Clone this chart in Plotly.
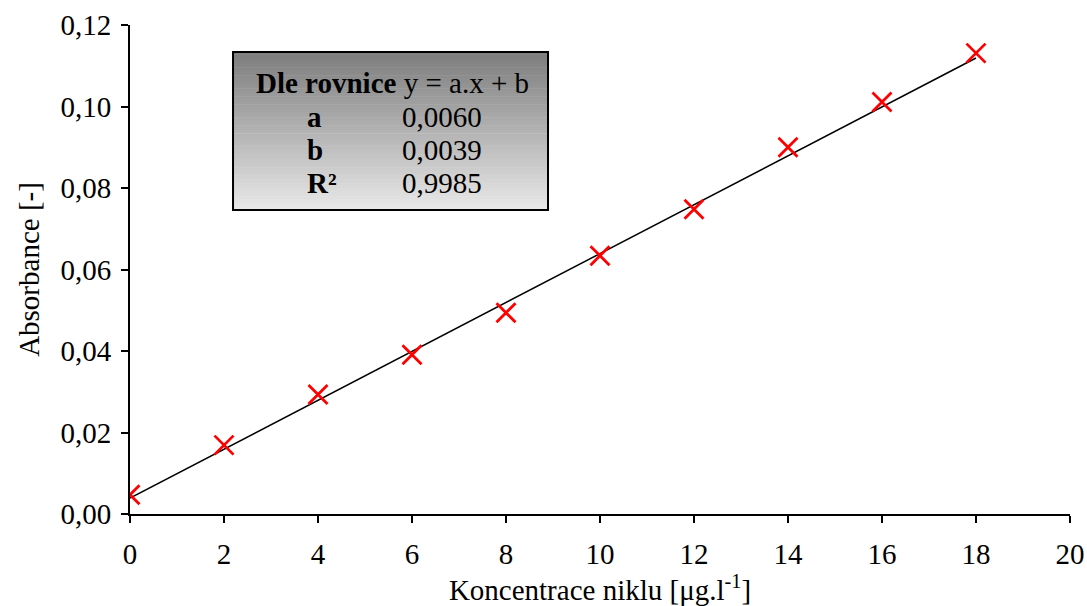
import plotly.graph_objects as go

# Data
koncentrace = [0, 2, 4, 6, 8, 10, 12, 14, 16, 18]
absorbance = [0.0047, 0.0169, 0.0293, 0.0391, 0.0494, 0.0634, 0.0748, 0.0900, 0.1011, 0.1131]
a_coef = 0.0060
b_coef = 0.0039
r2 = 0.9985
x_ticks = [0, 2, 4, 6, 8, 10, 12, 14, 16, 18, 20]

FONT = "Liberation Serif, Times New Roman, serif"

fit_x = [min(koncentrace), max(koncentrace)]
fit_y = [a_coef * v + b_coef for v in fit_x]

fig = go.Figure()
fig.add_trace(go.Scatter(x=fit_x, y=fit_y, mode="lines",
                         line=dict(color="black", width=1.5), hoverinfo="skip"))
fig.add_trace(go.Scatter(x=koncentrace, y=absorbance, mode="markers",
                         marker=dict(symbol="x-thin", size=19, line=dict(color="#ff0000", width=2.8))))

# gradient box
x0, x1 = 0.1096, 0.4447
y0, y1 = 0.6217, 0.9448
n = 60
shapes = []
for i in range(n):
    t = i / (n - 1)
    c = int(125 + t * (232 - 125))
    ya = y1 - (y1 - y0) * i / n
    yb = y1 - (y1 - y0) * (i + 1) / n
    shapes.append(dict(type="rect", xref="paper", yref="paper", x0=x0, x1=x1, y0=yb, y1=ya + 0.001,
                       fillcolor=f"rgb({c},{c},{c})", line=dict(width=0), layer="above"))
shapes.append(dict(type="rect", xref="paper", yref="paper", x0=x0, x1=x1, y0=y0, y1=y1,
                   fillcolor="rgba(0,0,0,0)", line=dict(color="black", width=2), layer="above"))

fmt = lambda v: f"{v:.4f}".replace(".", ",")
fs = 29
ann = [dict(text="<b>Dle rovnice</b> y = a.x + b", x=0.279, y=0.881, xanchor="center")]
rows = [("<b>a</b>", fmt(a_coef), 0.812), ("<b>b</b>", fmt(b_coef), 0.744), ("<b>R²</b>", fmt(r2), 0.677)]
for lab, val, yy in rows:
    ann.append(dict(text=lab, x=0.186, y=yy, xanchor="left"))
    ann.append(dict(text=val, x=0.287, y=yy, xanchor="left"))
for a in ann:
    a.update(xref="paper", yref="paper", yanchor="middle", showarrow=False,
             font=dict(family=FONT, size=fs, color="black"))

fig.update_layout(
    width=1087, height=606,
    margin=dict(l=130, r=17, t=25, b=92),
    paper_bgcolor="white", plot_bgcolor="white",
    showlegend=False,
    separators=", ",
    font=dict(family=FONT, size=29, color="black"),
    shapes=shapes, annotations=ann,
    xaxis=dict(range=[0, 20], tickvals=x_ticks, showgrid=False, zeroline=False, automargin=False,
               showline=True, linecolor="black", linewidth=2, ticks="outside", ticklen=7,
               tickwidth=2, tickcolor="black", ticklabelstandoff=6,
               title=dict(text="Koncentrace niklu [μg.l<sup>-1</sup>]", standoff=14,
                          font=dict(family=FONT, size=29))),
    yaxis=dict(range=[0, 0.12], dtick=0.02, tickformat=".2f", showgrid=False, zeroline=False,
               automargin=False,
               showline=True, linecolor="black", linewidth=2, ticks="outside", ticklen=7,
               tickwidth=2, tickcolor="black", ticklabelstandoff=4,
               title=dict(text="Absorbance [-]", standoff=12, font=dict(family=FONT, size=29))),
)

fig.write_html("out.html", config={"displayModeBar": False},
               post_script="document.body.style.margin='0';")
